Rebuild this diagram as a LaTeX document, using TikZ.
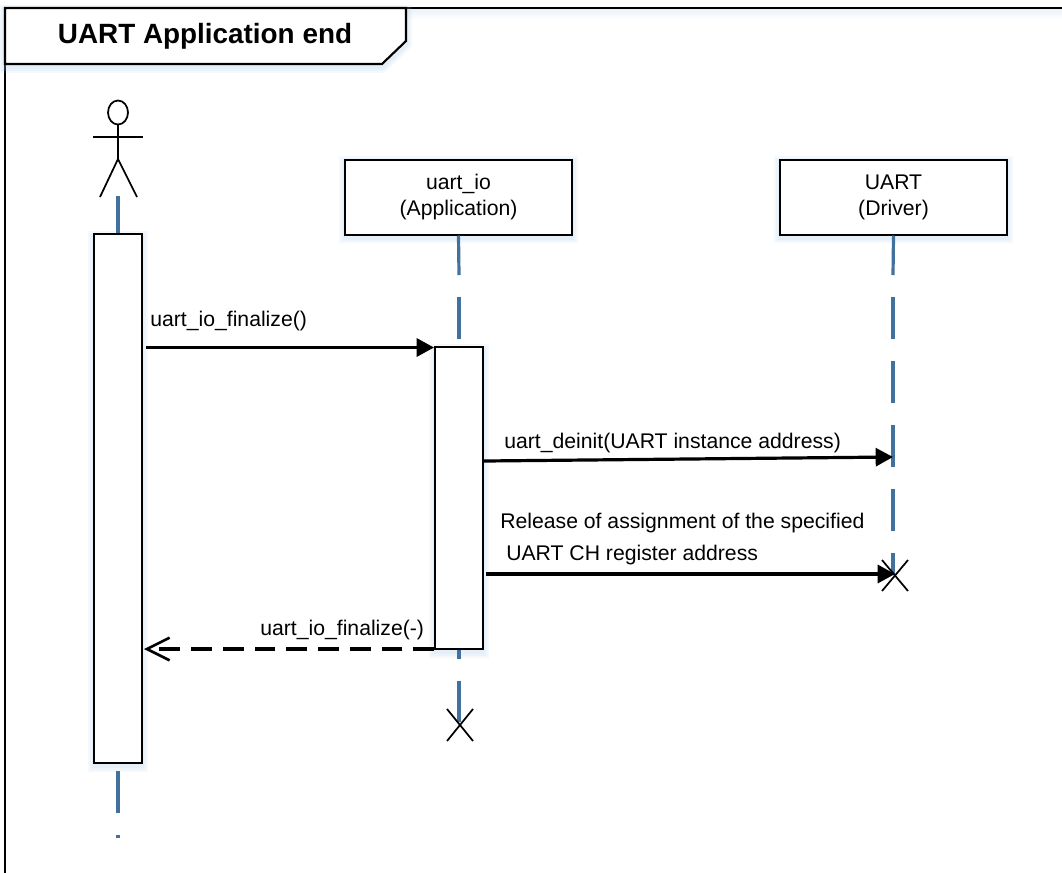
\documentclass[tikz,border=0pt]{standalone}
\usepackage{fontspec}
\setmainfont{Liberation Sans}
\usetikzlibrary{arrows.meta,shapes.geometric}
\definecolor{lifeblue}{HTML}{41719C}
\definecolor{glow}{HTML}{9DC3E6}
\tikzset{
  glowring/.style={preaction={draw=glow,draw opacity=.10,line width=#1,transform canvas={yshift=-2.2pt}}},
  soft/.style={glowring=9pt,glowring=6pt,glowring=3.5pt},
  box/.style={draw=black,line width=1.5pt,fill=white,inner sep=0pt,soft,align=center,font=\fontsize{15.9pt}{19.5pt}\selectfont},
  lifeline/.style={draw=lifeblue,line width=2.4pt},
  stick/.style={draw=black,line width=1.3pt},
  msg/.style={draw=black,line width=2.4pt,-{Triangle[length=13pt,width=13.5pt]}},
  ret/.style={draw=black,line width=2.4pt,dash pattern=on 15.5pt off 8.3pt,-{Straight Barb[length=17pt,width=17pt,line width=2pt]}},
  lbl/.style={anchor=base west,inner sep=0pt,font=\fontsize{15.9pt}{19.5pt}\selectfont},
  ttl/.style={anchor=base,inner sep=0pt,font=\fontsize{20.9pt}{24pt}\selectfont\bfseries},
}
\begin{document}
\begin{tikzpicture}[x=0.75pt,y=-0.75pt]
\useasboundingbox (0,0) rectangle (1062,872);
\clip (0,0) rectangle (1062,872);
% frame
\fill[top color=glow!20,bottom color=white] (406,9) rectangle (1062,20);
\draw[line width=1.8pt] (1062,8) -- (5,8) -- (5,890);
\path[draw=black,line width=1.6pt,fill=white,soft] (5,8) -- (406,8) -- (406,41) -- (382,64) -- (5,64) -- cycle;
\node[ttl] (title) at (205,43) {UART Application end};
% actor
\node[draw=black,line width=1.3pt,ellipse,minimum width=15pt,minimum height=18pt,inner sep=0pt,fill=white] (head) at (118,112.5) {};
\coordinate (hip) at (118,159);
\coordinate (armL) at (93,137);
\coordinate (armR) at (143,137);
\coordinate (footL) at (100,197);
\coordinate (footR) at (137,197);
\draw[stick] (head.south) -- (hip);
\draw[stick] (armL) -- (armR);
\draw[stick] (footL) -- (hip) -- (footR);
% coordinates of lifeline ends
\coordinate (l1top) at (118,196);
\coordinate (l1a) at (118,771);
\coordinate (l1b) at (118,813);
\coordinate (l1c) at (118,835);
\coordinate (l1d) at (118,838);
% lifelines behind boxes
\node[box,minimum width=170.25pt,minimum height=56.25pt] (app) at (458.5,197) {uart\_io\\(Application)};
\node[box,minimum width=170.25pt,minimum height=56.25pt] (drv) at (893.5,197) {UART\\(Driver)};
\node[box,minimum width=36pt,minimum height=396.75pt] (act1) at (118,498.5) {};
\node[box,minimum width=36pt,minimum height=226.5pt] (act2) at (459,498) {};
\draw[lifeline] (l1top) -- (act1.north);
\draw[lifeline] (l1a) -- (l1b);
\draw[lifeline] (l1c) -- (l1d);
% app lifeline
\coordinate (a1) at (459,275);
\coordinate (a2) at (459,297);
\coordinate (a3) at (459,339);
\coordinate (a4) at (459,659);
\coordinate (a5) at (459,681);
\coordinate (a6) at (459,722);
\draw[lifeline] (app.south) -- (a1);
\draw[lifeline] (a2) -- (a3);
\draw[lifeline] (act2.south) -- (a4);
\draw[lifeline] (a5) -- (a6);
% driver lifeline
\coordinate (d1) at (893,275);
\coordinate (d2) at (893,297);
\coordinate (d3) at (893,339);
\coordinate (d4) at (893,361);
\coordinate (d5) at (893,403);
\coordinate (d6) at (893,425);
\coordinate (d7) at (893,467);
\coordinate (d8) at (893,489);
\coordinate (d9) at (893,531);
\coordinate (d10) at (893,553);
\coordinate (d11) at (893,574);
\draw[lifeline] (drv.south) -- (d1);
\draw[lifeline] (d2) -- (d3);
\draw[lifeline] (d4) -- (d5);
\draw[lifeline] (d6) -- (d7);
\draw[lifeline] (d8) -- (d9);
\draw[lifeline] (d10) -- (d11);
% destruction marks
\coordinate (x1a) at (447,709);
\coordinate (x1b) at (473,741);
\coordinate (x1c) at (473,709);
\coordinate (x1d) at (447,741);
\draw[stick] (x1a) -- (x1b);
\draw[stick] (x1c) -- (x1d);
\coordinate (x2a) at (882,560);
\coordinate (x2b) at (908,591);
\coordinate (x2c) at (908,560);
\coordinate (x2d) at (882,591);
% messages
\coordinate (m1s) at (146,347.5);
\coordinate (m1e) at (434,347.5);
\coordinate (m2s) at (484,461);
\coordinate (m2e) at (893,457);
\coordinate (m3s) at (486,574);
\coordinate (m3e) at (895,574);
\coordinate (m4s) at (434,649);
\coordinate (m4e) at (144,649);
\draw[msg] (m1s) -- (m1e);
\draw[msg] (m2s) -- (m2e);
\draw[msg] (m3s) -- (m3e);
\draw[ret] (m4s) -- (m4e);
\draw[stick] (x2a) -- (x2b);
\draw[stick] (x2c) -- (x2d);
% labels
\node[lbl] (t1) at (150,326) {uart\_io\_finalize()};
\node[lbl] (t2) at (504,448) {uart\_deinit(UART instance address)};
\node[lbl] (t3) at (500,528) {Release of assignment of the specified};
\node[lbl] (t4) at (506,560) {UART CH register address};
\node[lbl] (t5) at (260,635) {uart\_io\_finalize(-)};
\end{tikzpicture}
\end{document}
